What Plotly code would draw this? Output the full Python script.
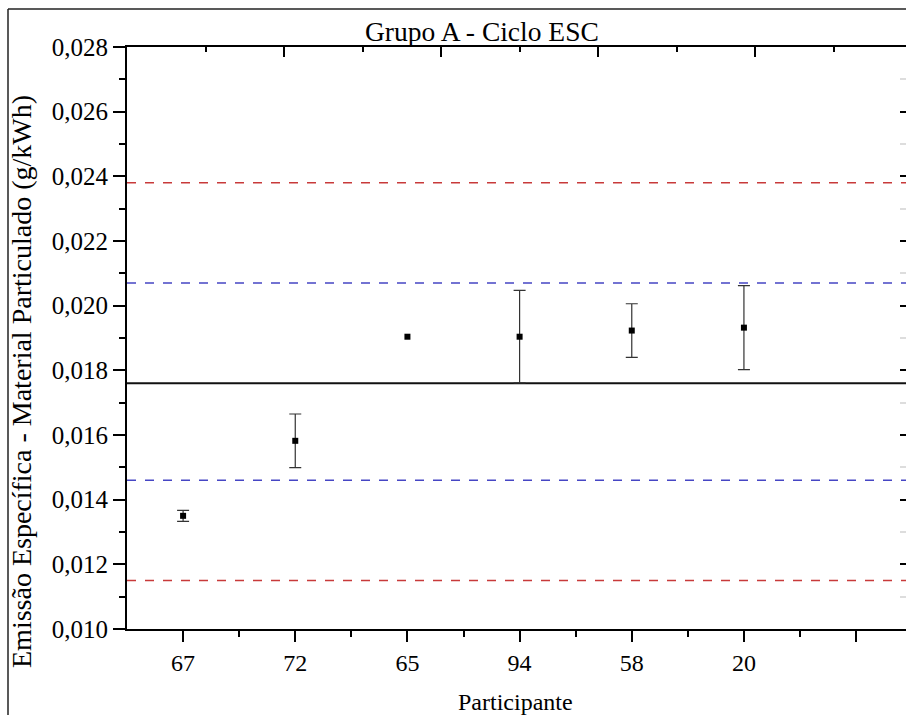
import plotly.graph_objects as go

# ---- data ----
participants = ["67", "72", "65", "94", "58", "20"]
emission = [0.01350, 0.01582, 0.01904, 0.01904, 0.01923, 0.01932]
uncertainty = [0.00017, 0.00083, None, 0.00143, 0.00083, 0.00130]

center_line = 0.0176
blue_upper = 0.0207
blue_lower = 0.0146
red_upper = 0.0238
red_lower = 0.0115

title_text = "Grupo A - Ciclo ESC"
y_title = "Emissão Específica - Material Particulado (g/kWh)"
x_title = "Participante"

# ---- layout geometry (pixels) ----
W, H = 906, 715
L, R, T, B = 127, 0, 47, 86
plot_w = W - L - R
plot_h = H - T - B
def px_x(p):
    return (p - L) / plot_w
def px_y(p):
    return (H - B - p) / plot_h

FONT = "Liberation Serif"

xpos = list(range(1, len(participants) + 1))
# points that carry an error bar
ex = [x for x, e in zip(xpos, uncertainty) if e is not None]
ey = [y for y, e in zip(emission, uncertainty) if e is not None]
ee = [e for e in uncertainty if e is not None]

shapes = [
    # outer frame: only left and top edges are inside the picture
    dict(type="line", xref="paper", yref="paper",
         x0=px_x(8), x1=px_x(8), y0=px_y(H + 5), y1=px_y(9),
         line=dict(color="#222222", width=1.5), layer="below"),
    dict(type="line", xref="paper", yref="paper",
         x0=px_x(8), x1=px_x(W + 5), y0=px_y(9), y1=px_y(9),
         line=dict(color="#222222", width=1.5), layer="below"),
]
for val, col, dash, wd in [
    (red_upper, "#c83a3a", "dash", 1.6),
    (blue_upper, "#4646c4", "dash", 1.6),
    (blue_lower, "#4646c4", "dash", 1.6),
    (red_lower, "#c83a3a", "dash", 1.6),
    (center_line, "#111111", "solid", 1.8),
]:
    shapes.append(dict(type="line", xref="paper", yref="y", x0=0, x1=1, y0=val, y1=val,
                       line=dict(color=col, width=wd, dash=dash), layer="below"))

fig = go.Figure()

# error bars (only where defined)
fig.add_trace(go.Scatter(
    x=ex, y=ey, mode="markers",
    marker=dict(size=1, color="rgba(0,0,0,0)"),
    error_y=dict(type="data", array=ee, visible=True, color="#333333",
                 thickness=1.2, width=6),
    showlegend=False, hoverinfo="skip", cliponaxis=False,
))
# mean points
fig.add_trace(go.Scatter(
    x=xpos, y=emission, mode="markers",
    marker=dict(symbol="square", size=6, color="black"),
    showlegend=False, hoverinfo="skip", cliponaxis=False,
))
# empty trace to create top/right mirror axes
fig.add_trace(go.Scatter(x=[], y=[], xaxis="x2", yaxis="y2", showlegend=False, hoverinfo="skip"))

x_range_end = 0.5 + plot_w / 112.17

fig.update_layout(
    width=W, height=H, autosize=False,
    margin=dict(l=L, r=R, t=T, b=B, pad=0),
    paper_bgcolor="white", plot_bgcolor="white",
    separators=",.",
    font=dict(family=FONT, size=25, color="black"),
    xaxis=dict(
        range=[0.5, x_range_end], tickmode="array",
        tickvals=xpos + [len(participants) + 1],
        ticktext=participants + [""],
        ticks="outside", ticklen=11, tickwidth=2, tickcolor="black",
        showline=True, linewidth=2, linecolor="black", showgrid=False, zeroline=False,
        minor=dict(tickmode="array", tickvals=[1.5 + i for i in range(7)],
                   ticks="outside", ticklen=6, tickwidth=2, tickcolor="black"),
        tickfont=dict(family=FONT, size=24), fixedrange=True,
    ),
    yaxis=dict(
        range=[0.010, 0.028], tick0=0.010, dtick=0.002, tickformat=".3f",
        ticks="outside", ticklen=12, tickwidth=2, tickcolor="black",
        showline=True, linewidth=2, linecolor="black", showgrid=False, zeroline=False,
        minor=dict(dtick=0.001, ticks="outside", ticklen=6, tickwidth=2, tickcolor="black"),
        tickfont=dict(family=FONT, size=25), fixedrange=True,
    ),
    xaxis2=dict(
        overlaying="x", side="top", anchor="y2",
        range=[0, plot_w / 157.0], dtick=1, tick0=0,
        ticks="inside", ticklen=10, tickwidth=2, tickcolor="black",
        showline=True, linewidth=2, linecolor="black", showgrid=False, zeroline=False,
        showticklabels=False,
        minor=dict(dtick=0.5, ticks="inside", ticklen=5, tickwidth=2, tickcolor="black"),
        fixedrange=True,
    ),
    yaxis2=dict(
        overlaying="y", side="right", anchor="x2",
        range=[0.010, 0.028], tick0=0.010, dtick=0.002,
        ticks="inside", ticklen=6, tickwidth=2, tickcolor="black",
        showline=False, showgrid=False, zeroline=False, showticklabels=False,
        minor=dict(dtick=0.001, ticks="inside", ticklen=6, tickwidth=2, tickcolor="#dddddd"),
        fixedrange=True,
    ),
    annotations=[
        dict(text=title_text, xref="paper", yref="paper", x=px_x(482), y=px_y(31),
             xanchor="center", yanchor="middle", showarrow=False,
             font=dict(family=FONT, size=27.5, color="black")),
        dict(text=y_title, xref="paper", yref="paper", x=px_x(21), y=px_y(382),
             xanchor="center", yanchor="middle", textangle=-90, showarrow=False,
             font=dict(family=FONT, size=28, color="black")),
        dict(text=x_title, xref="paper", yref="paper", x=px_x(515), y=px_y(702),
             xanchor="center", yanchor="middle", showarrow=False,
             font=dict(family=FONT, size=24, color="black")),
    ],
    shapes=shapes,
)

fig.write_html("out.html")
